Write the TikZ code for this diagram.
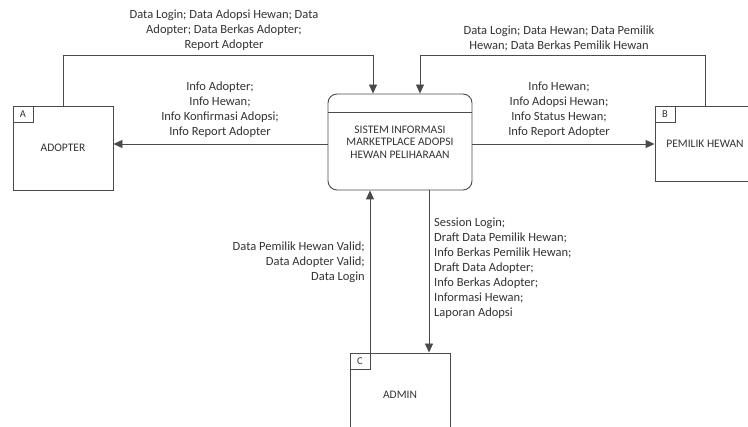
\documentclass[tikz,border=0pt]{standalone}
\usepackage{fontspec}
\setmainfont{Carlito}
\usetikzlibrary{arrows.meta,positioning}
\definecolor{linegray}{HTML}{4A4A4A}
\definecolor{textgray}{HTML}{333333}

\begin{document}
\begin{tikzpicture}[x=1pt,y=-1pt,
  entity/.style={draw=linegray, line width=0.9pt, minimum width=100pt, minimum height=84pt, inner sep=0pt, text=textgray, font=\fontsize{11.5}{13}\selectfont},
  tag/.style={draw=linegray, line width=0.7pt, minimum width=20pt, minimum height=16pt, inner sep=0pt, anchor=north west, text=textgray, font=\fontsize{10.5}{12}\selectfont},
  process/.style={draw=linegray, line width=0.9pt, rounded corners=9pt, minimum width=144pt, minimum height=96pt, inner sep=0pt, align=center, text=textgray, font=\fontsize{11.5}{12.5}\selectfont},
  flowlabel/.style={inner sep=0pt, text=textgray, font=\fontsize{12.5}{15}\selectfont},
  flow/.style={draw=linegray, line width=0.9pt, -{Triangle[length=9pt,width=8pt]}}]
\clip (0,0) rectangle (748,427);

% entitas luar dan proses
\node[entity] (adopter) at (63,148) {ADOPTER};
\node[tag] (tagA) at (adopter.north west) {A};
\node[entity, minimum height=75pt] (pemilik) at (705,143.5) {PEMILIK HEWAN};
\node[tag] (tagB) at (pemilik.north west) {B};
\node[entity] (admin) at (400,395) {ADMIN};
\node[tag] (tagC) at (admin.north west) {C};
\node[process] (sistem) at (400,142) {SISTEM INFORMASI\\MARKETPLACE ADOPSI\\HEWAN PELIHARAAN};
\draw[linegray, line width=0.9pt] ([yshift=-19pt]sistem.north west) -- ([yshift=-19pt]sistem.north east);

% titik belok
\coordinate (k1) at (373,55);
\coordinate (k2) at (420,55);
\coordinate (k3) at (370,0);
\coordinate (k4) at (429,0);

% aliran data
\draw[flow] (adopter.north) |- (k1) -- (sistem.north -| k1);
\draw[flow] (pemilik.north) |- (k2) -- (sistem.north -| k2);
\draw[flow] (sistem.west |- 0,144) -- (adopter.east |- 0,144);
\draw[flow] (sistem.east |- 0,144) -- (pemilik.west |- 0,144);
\draw[flow] (admin.north -| k3) -- (sistem.south -| k3);
\draw[flow] (sistem.south -| k4) -- (admin.north -| k4);

% label aliran
\node[flowlabel, align=center] (lblA1) at (224,30) {Data Login; Data Adopsi Hewan; Data\\Adopter; Data Berkas Adopter;\\Report Adopter};
\node[flowlabel, align=center] (lblB1) at (559,38.5) {Data Login; Data Hewan; Data Pemilik\\Hewan; Data Berkas Pemilik Hewan};
\node[flowlabel, align=center] (lblA2) at (220,110) {Info Adopter;\\Info Hewan;\\Info Konfirmasi Adopsi;\\Info Report Adopter};
\node[flowlabel, align=center] (lblB2) at (559,110) {Info Hewan;\\Info Adopsi Hewan;\\Info Status Hewan;\\Info Report Adopter};
\node[flowlabel, align=right, anchor=east] (lblC1) at (365,262) {Data Pemilik Hewan Valid;\\Data Adopter Valid;\\Data Login};
\node[flowlabel, align=left, anchor=west] (lblC2) at (434,268) {Session Login;\\Draft Data Pemilik Hewan;\\Info Berkas Pemilik Hewan;\\Draft Data Adopter;\\Info Berkas Adopter;\\Informasi Hewan;\\Laporan Adopsi};
\end{tikzpicture}
\end{document}
